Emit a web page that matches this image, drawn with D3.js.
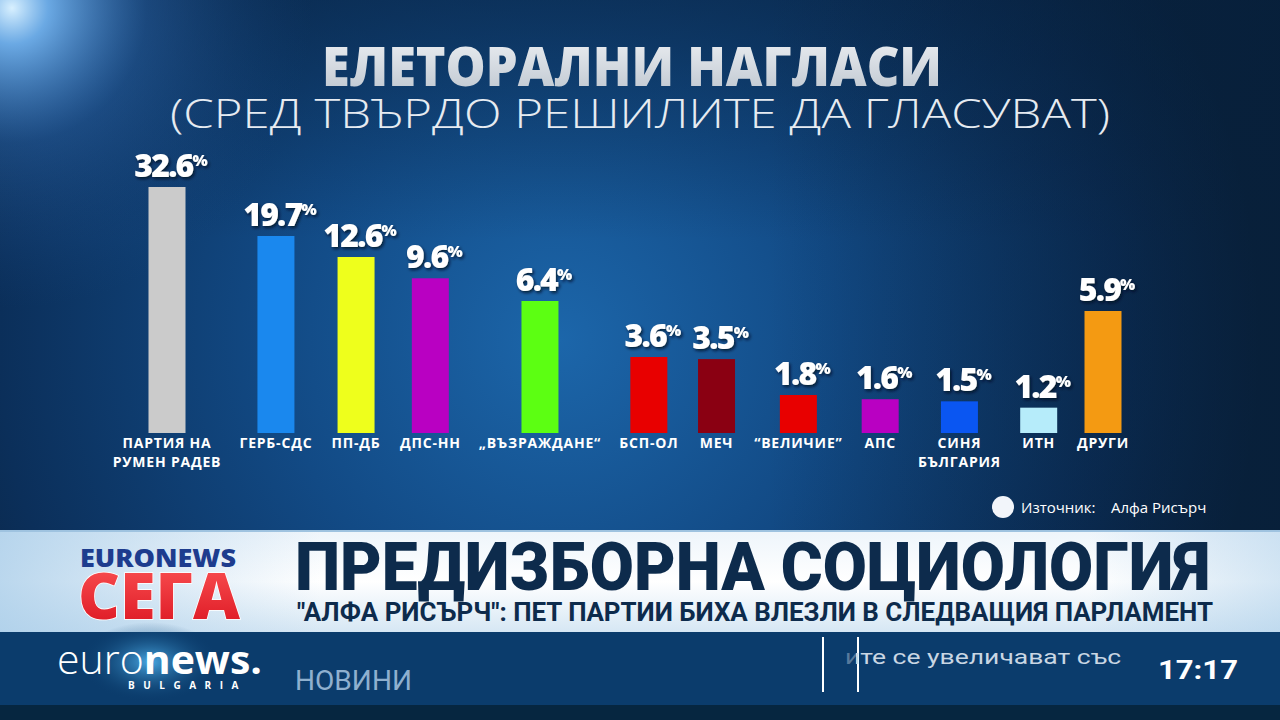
<!DOCTYPE html>
<html>
<head>
<meta charset="utf-8">
<script src="https://cdn.jsdelivr.net/npm/d3@7"></script>
<style>
  html, body { margin: 0; padding: 0; background: #0a2748; }
  svg { display: block; }
</style>
</head>
<body>
<svg id="chart" width="1280" height="720"></svg>
<script>
const width = 1280;
const height = 720;

// data
const parties = [
    'ПАРТИЯ НА\nРУМЕН РАДЕВ', 'ГЕРБ-СДС', 'ПП-ДБ', 'ДПС-НН', '„ВЪЗРАЖДАНЕ“', 'БСП-ОЛ',
    'МЕЧ', '“ВЕЛИЧИЕ”', 'АПС', 'СИНЯ\nБЪЛГАРИЯ', 'ИТН', 'ДРУГИ'
];
const shares = [32.6, 19.7, 12.6, 9.6, 6.4, 3.6, 3.5, 1.8, 1.6, 1.5, 1.2, 5.9];
const partyColors = [
    '#cbcbcb', '#1a88ee', '#eeff1c', '#b900c2', '#5cff12', '#e80000',
    '#8a0012', '#e80000', '#b900c2', '#0a56f2', '#b6ecfa', '#f49a12'
];
// the bars on screen are not proportional, so the scale is broken at these values
const scaleBreaks = [0, 3.6, 6.4, 12.6, 19.7, 32.6];

const title = 'ЕЛЕТОРАЛНИ НАГЛАСИ';
const subtitle = '(СРЕД ТВЪРДО РЕШИЛИТЕ ДА ГЛАСУВАТ)';
const sourceLabel = 'Източник:';
const sourceName = 'Алфа Рисърч';
const bannerTitle = 'ПРЕДИЗБОРНА СОЦИОЛОГИЯ';
const bannerSub = '"АЛФА РИСЪРЧ": ПЕТ ПАРТИИ БИХА ВЛЕЗЛИ В СЛЕДВАЩИЯ ПАРЛАМЕНТ';
const tickerText = 'ите се увеличават със';
const clock = '17:17';

const svg = d3.select('#chart');
const defs = svg.append('defs');

// ---------- background ----------
const bg = defs.append('radialGradient').attr('id', 'bg')
    .attr('gradientUnits', 'userSpaceOnUse')
    .attr('cx', 560).attr('cy', 340).attr('r', 700);
bg.append('stop').attr('offset', 0).attr('stop-color', '#1c66aa');
bg.append('stop').attr('offset', 0.4).attr('stop-color', '#124a85');
bg.append('stop').attr('offset', 0.8).attr('stop-color', '#0b2f5a');
bg.append('stop').attr('offset', 1).attr('stop-color', '#09233f');

const flare = defs.append('radialGradient').attr('id', 'flare')
    .attr('gradientUnits', 'userSpaceOnUse')
    .attr('cx', 12).attr('cy', 8).attr('r', 300);
flare.append('stop').attr('offset', 0).attr('stop-color', '#d8f0ff').attr('stop-opacity', 1);
flare.append('stop').attr('offset', 0.12).attr('stop-color', '#7cc0ff').attr('stop-opacity', 0.85);
flare.append('stop').attr('offset', 0.45).attr('stop-color', '#3a7fd0').attr('stop-opacity', 0.35);
flare.append('stop').attr('offset', 1).attr('stop-color', '#1a4f90').attr('stop-opacity', 0);

const rightShade = defs.append('linearGradient').attr('id', 'rightShade')
    .attr('x1', 0).attr('x2', 1).attr('y1', 0).attr('y2', 0);
rightShade.append('stop').attr('offset', 0.6).attr('stop-color', '#071d36').attr('stop-opacity', 0);
rightShade.append('stop').attr('offset', 1).attr('stop-color', '#071d36').attr('stop-opacity', 0.55);

const topShade = defs.append('linearGradient').attr('id', 'topShade')
    .attr('x1', 0).attr('x2', 0).attr('y1', 0).attr('y2', 1);
topShade.append('stop').attr('offset', 0).attr('stop-color', '#082342').attr('stop-opacity', 0.55);
topShade.append('stop').attr('offset', 0.45).attr('stop-color', '#082342').attr('stop-opacity', 0);

svg.append('rect').attr('width', width).attr('height', 532).attr('fill', 'url(#bg)');
svg.append('rect').attr('width', width).attr('height', 532).attr('fill', 'url(#topShade)');
svg.append('rect').attr('width', width).attr('height', 532).attr('fill', 'url(#rightShade)');
svg.append('rect').attr('width', width).attr('height', 532).attr('fill', 'url(#flare)');

const titleGrad = defs.append('linearGradient').attr('id', 'titleGrad')
    .attr('x1', 0).attr('x2', 0).attr('y1', 0).attr('y2', 1);
titleGrad.append('stop').attr('offset', 0).attr('stop-color', '#f2f4f7');
titleGrad.append('stop').attr('offset', 1).attr('stop-color', '#b9c2cc');

const shadow = defs.append('filter').attr('id', 'shadow')
    .attr('x', '-20%').attr('y', '-20%').attr('width', '140%').attr('height', '140%');
shadow.append('feDropShadow').attr('dx', 1.5).attr('dy', 2).attr('stdDeviation', 1.5)
    .attr('flood-color', '#021024').attr('flood-opacity', 0.8);

// ---------- titles ----------
svg.append('text')
    .attr('x', 632).attr('y', 86)
    .attr('text-anchor', 'middle')
    .attr('textLength', 620).attr('lengthAdjust', 'spacingAndGlyphs')
    .style('font-family', '"Open Sans", sans-serif')
    .style('font-weight', 800).style('font-size', '54px')
    .attr('fill', 'url(#titleGrad)')
    .text(title);

svg.append('text')
    .attr('x', 640).attr('y', 128)
    .attr('text-anchor', 'middle')
    .attr('textLength', 940).attr('lengthAdjust', 'spacingAndGlyphs')
    .style('font-family', '"Open Sans", sans-serif')
    .style('font-weight', 300).style('font-size', '40px')
    .attr('fill', '#e6ebf1')
    .text(subtitle);

// ---------- bars ----------
const baseline = 433;
const y = d3.scaleLinear()
    .domain(scaleBreaks)
    .range([baseline, 357, 301, 257, 236, 187]);

const barWidth = 37;
const data = parties.map((p, i) => ({ name: p, value: shares[i], color: partyColors[i] }));

const labelLayer = svg.append('g');
const labels = labelLayer.selectAll('text')
    .data(data)
    .join('text')
    .attr('text-anchor', 'middle')
    .style('font-family', '"Open Sans", sans-serif')
    .style('font-weight', 700).style('font-size', '14px')
    .style('letter-spacing', '0.8px')
    .attr('fill', '#ffffff');

labels.selectAll('tspan')
    .data(d => d.name.split('\n'))
    .join('tspan')
    .attr('x', 0)
    .attr('y', (d, i) => baseline + 15 + i * 19)
    .text(d => d);

// lay out the slots from the label widths, the way the graphic packs them
const widths = [];
labels.each(function () {
    let w = barWidth;
    d3.select(this).selectAll('tspan').each(function () {
        w = Math.max(w, this.getComputedTextLength());
    });
    widths.push(w);
});
const slots = [0];
for (let i = 1; i < widths.length; i++) {
    slots.push(slots[i - 1] + widths[i - 1] / 2 + widths[i] / 2 + 22);
}
const x = d3.scaleLinear()
    .domain([slots[0], slots[slots.length - 1]])
    .range([167, 1103]);
data.forEach((d, i) => { d.cx = x(slots[i]); });

labels.selectAll('tspan').attr('x', function () {
    return d3.select(this.parentNode).datum().cx;
});

svg.append('g').selectAll('rect')
    .data(data)
    .join('rect')
    .attr('x', d => d.cx - barWidth / 2)
    .attr('y', d => y(d.value))
    .attr('width', barWidth)
    .attr('height', d => baseline - y(d.value))
    .attr('fill', d => d.color);

const values = svg.append('g').selectAll('text')
    .data(data)
    .join('text')
    .attr('x', d => d.cx + 4)
    .attr('y', d => y(d.value) - 10)
    .attr('text-anchor', 'middle')
    .attr('filter', 'url(#shadow)')
    .style('font-family', '"Open Sans", sans-serif')
    .style('font-weight', 800)
    .attr('fill', '#ffffff');
values.append('tspan')
    .style('font-size', '32px').style('letter-spacing', '-1.8px')
    .text(d => d.value.toFixed(1));
values.append('tspan')
    .attr('dy', -11)
    .style('font-size', '16px')
    .text('%');

// ---------- source ----------
svg.append('circle').attr('cx', 1003).attr('cy', 507).attr('r', 11).attr('fill', '#f2f5fa');
svg.append('text').attr('x', 1021).attr('y', 513)
    .style('font-family', '"Open Sans", sans-serif').style('font-size', '15px')
    .attr('fill', '#ffffff').text(sourceLabel);
svg.append('text').attr('x', 1111).attr('y', 513)
    .style('font-family', '"Open Sans", sans-serif').style('font-size', '15px')
    .attr('fill', '#ffffff').text(sourceName);

// ---------- banner ----------
const bannerGrad = defs.append('linearGradient').attr('id', 'bannerGrad')
    .attr('x1', 0).attr('x2', 0).attr('y1', 0).attr('y2', 1);
bannerGrad.append('stop').attr('offset', 0).attr('stop-color', '#eef5fb');
bannerGrad.append('stop').attr('offset', 0.5).attr('stop-color', '#ffffff');
bannerGrad.append('stop').attr('offset', 1).attr('stop-color', '#d6e7f4');
const bannerSide = defs.append('linearGradient').attr('id', 'bannerSide')
    .attr('x1', 0).attr('x2', 1).attr('y1', 0).attr('y2', 0);
bannerSide.append('stop').attr('offset', 0).attr('stop-color', '#a9cde9').attr('stop-opacity', 0.8);
bannerSide.append('stop').attr('offset', 0.25).attr('stop-color', '#a9cde9').attr('stop-opacity', 0);
bannerSide.append('stop').attr('offset', 0.85).attr('stop-color', '#a9cde9').attr('stop-opacity', 0);
bannerSide.append('stop').attr('offset', 1).attr('stop-color', '#a9cde9').attr('stop-opacity', 0.5);

svg.append('rect').attr('x', 0).attr('y', 531).attr('width', width).attr('height', 101).attr('fill', 'url(#bannerGrad)');
svg.append('rect').attr('x', 0).attr('y', 531).attr('width', width).attr('height', 101).attr('fill', 'url(#bannerSide)');
svg.append('rect').attr('x', 0).attr('y', 530).attr('width', width).attr('height', 2).attr('fill', '#9fc3e0');

svg.append('text').attr('x', 80).attr('y', 567)
    .attr('textLength', 156).attr('lengthAdjust', 'spacingAndGlyphs')
    .style('font-family', '"Open Sans", sans-serif').style('font-weight', 800).style('font-size', '25px')
    .attr('fill', '#1d3c8e').text('EURONEWS');

const segaGrad = defs.append('linearGradient').attr('id', 'segaGrad')
    .attr('x1', 0).attr('x2', 0).attr('y1', 0).attr('y2', 1);
segaGrad.append('stop').attr('offset', 0).attr('stop-color', '#ff5a5a');
segaGrad.append('stop').attr('offset', 1).attr('stop-color', '#d80f1c');
svg.append('text').attr('x', 78).attr('y', 619)
    .attr('textLength', 162).attr('lengthAdjust', 'spacingAndGlyphs')
    .style('font-family', '"Open Sans", sans-serif').style('font-weight', 800).style('font-size', '64px')
    .attr('fill', 'url(#segaGrad)').attr('stroke', '#ffffff').attr('stroke-width', 1.5)
    .attr('paint-order', 'stroke')
    .text('СЕГА');

svg.append('text').attr('x', 295).attr('y', 590)
    .attr('textLength', 915).attr('lengthAdjust', 'spacingAndGlyphs')
    .style('font-family', 'Roboto, sans-serif').style('font-weight', 900).style('font-size', '66px')
    .attr('fill', '#0d2b4c').text(bannerTitle);
svg.append('text').attr('x', 297).attr('y', 621)
    .attr('textLength', 916).attr('lengthAdjust', 'spacingAndGlyphs')
    .style('font-family', 'Roboto, sans-serif').style('font-weight', 700).style('font-size', '26px')
    .attr('fill', '#0d2b4c').text(bannerSub);

// ---------- bottom strip ----------
svg.append('rect').attr('x', 0).attr('y', 632).attr('width', width).attr('height', 74).attr('fill', '#0b3c6c');
svg.append('rect').attr('x', 0).attr('y', 705).attr('width', width).attr('height', 15).attr('fill', '#062640');

const glow = defs.append('radialGradient').attr('id', 'glow');
glow.append('stop').attr('offset', 0).attr('stop-color', '#4fb4f0').attr('stop-opacity', 0.9);
glow.append('stop').attr('offset', 1).attr('stop-color', '#0b3c6c').attr('stop-opacity', 0);
svg.append('ellipse').attr('cx', 150).attr('cy', 662).attr('rx', 70).attr('ry', 40).attr('fill', 'url(#glow)');

const logo = svg.append('text').attr('x', 57).attr('y', 674)
    .attr('textLength', 205).attr('lengthAdjust', 'spacingAndGlyphs')
    .style('font-family', '"Open Sans", sans-serif').style('font-size', '40px')
    .attr('fill', '#ffffff');
logo.append('tspan').style('font-weight', 300).text('euro');
logo.append('tspan').style('font-weight', 700).text('news.');
svg.append('text').attr('x', 128).attr('y', 689)
    .style('font-family', '"Open Sans", sans-serif').style('font-weight', 700).style('font-size', '10px')
    .style('letter-spacing', '8.5px')
    .attr('fill', '#ffffff').text('BULGARIA');

svg.append('text').attr('x', 295).attr('y', 690)
    .attr('textLength', 117).attr('lengthAdjust', 'spacingAndGlyphs')
    .style('font-family', 'Roboto, sans-serif').style('font-size', '27px')
    .attr('fill', '#8fb0cf').text('НОВИНИ');

svg.append('rect').attr('x', 822).attr('y', 637).attr('width', 2).attr('height', 55).attr('fill', '#ffffff');
svg.append('rect').attr('x', 857).attr('y', 637).attr('width', 2).attr('height', 55).attr('fill', '#ffffff');
svg.append('text').attr('x', 845).attr('y', 664)
    .attr('textLength', 276).attr('lengthAdjust', 'spacingAndGlyphs')
    .style('font-family', 'Roboto, sans-serif').style('font-size', '21px')
    .attr('fill', '#c9d6e3').text(tickerText);
svg.append('rect').attr('x', 826).attr('y', 640).attr('width', 30).attr('height', 30).attr('fill', '#0b3c6c').attr('opacity', 0.6);
svg.append('text').attr('x', 1158).attr('y', 679)
    .attr('textLength', 80).attr('lengthAdjust', 'spacingAndGlyphs')
    .style('font-family', 'Roboto, sans-serif').style('font-weight', 700).style('font-size', '26px')
    .attr('fill', '#ffffff').text(clock);
</script>
</body>
</html>
